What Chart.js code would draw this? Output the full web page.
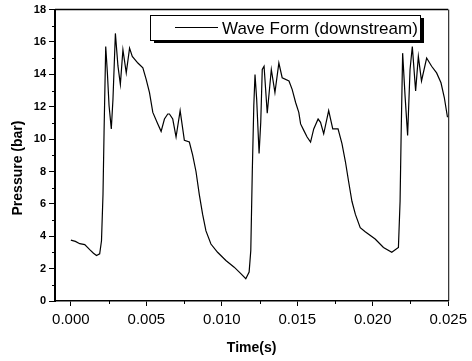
<!DOCTYPE html>
<html>
<head>
<meta charset="utf-8">
<script src="https://cdn.jsdelivr.net/npm/chart.js@4/dist/chart.umd.min.js"></script>
<style>
  html, body { margin: 0; padding: 0; background: #fff; }
  #wrap { width: 472px; height: 361px; }
</style>
</head>
<body>
<div id="wrap"><canvas id="chart" width="472" height="361"></canvas></div>
<script>
// values
const seriesLabel = 'Wave Form (downstream)';
const timeS = [
  0.00000, 0.00030, 0.00059, 0.00092, 0.00125, 0.00150, 0.00170, 0.00191, 0.00203, 0.00213,
  0.00220, 0.00231, 0.00242, 0.00253, 0.00268, 0.00279, 0.00295, 0.00312, 0.00328, 0.00345,
  0.00367, 0.00389, 0.00407, 0.00444, 0.00477, 0.00499, 0.00521, 0.00543, 0.00576, 0.00598,
  0.00620, 0.00642, 0.00653, 0.00675, 0.00697, 0.00724, 0.00752, 0.00785, 0.00807, 0.00829,
  0.00851, 0.00873, 0.00895, 0.00928, 0.00972, 0.01027, 0.01082, 0.01126, 0.01159, 0.01181,
  0.01192, 0.01202, 0.01212, 0.01220, 0.01231, 0.01247, 0.01258, 0.01268, 0.01280, 0.01301,
  0.01328, 0.01352, 0.01378, 0.01400, 0.01445, 0.01466, 0.01489, 0.01510, 0.01522, 0.01543,
  0.01565, 0.01588, 0.01609, 0.01638, 0.01654, 0.01675, 0.01708, 0.01735, 0.01770, 0.01796,
  0.01819, 0.01840, 0.01862, 0.01885, 0.01917, 0.01950, 0.02016, 0.02071, 0.02126, 0.02170,
  0.02181, 0.02188, 0.02198, 0.02214, 0.02231, 0.02247, 0.02262, 0.02284, 0.02302, 0.02323,
  0.02357, 0.02390, 0.02423, 0.02452, 0.02474, 0.02495
];
const pressureBar = [
  3.76, 3.68, 3.54, 3.48, 3.17, 2.95, 2.81, 2.91, 3.72, 6.59,
  10.43, 15.72, 14.09, 12.08, 10.63, 12.46, 16.53, 14.52, 13.38, 15.52,
  14.09, 15.62, 15.11, 14.70, 14.40, 13.69, 12.87, 11.65, 10.94, 10.48,
  11.24, 11.55, 11.55, 11.24, 10.13, 11.76, 9.93, 9.82, 9.01, 8.00,
  6.57, 5.35, 4.33, 3.52, 3.01, 2.50, 2.09, 1.69, 1.38, 1.79,
  3.11, 8.00, 12.06, 13.99, 12.46, 9.11, 11.04, 14.30, 14.50, 11.60,
  14.30, 12.87, 14.70, 13.79, 13.59, 13.07, 12.26, 11.65, 10.94, 10.54,
  10.13, 9.82, 10.63, 11.24, 11.04, 10.33, 11.76, 10.63, 10.63, 9.72,
  8.60, 7.38, 6.16, 5.35, 4.53, 4.28, 3.83, 3.31, 3.01, 3.31,
  6.16, 10.25, 15.31, 12.67, 10.23, 14.30, 15.72, 12.98, 15.11, 13.59,
  15.01, 14.50, 14.09, 13.48, 12.57, 11.35
];
const xTickValues = [0.000, 0.005, 0.010, 0.015, 0.020, 0.025];
const xMinorTicks = [0.0025, 0.0075, 0.0125, 0.0175, 0.0225];
const yTickValues = [0, 2, 4, 6, 8, 10, 12, 14, 16, 18];
const yMinorTicks = [1, 3, 5, 7, 9, 11, 13, 15, 17];

const points = timeS.map((t, i) => ({ x: t, y: pressureBar[i] }));

// minor ticks, frame, legend with shadow, rotated y title
const decorations = {
  id: 'decorations',
  afterDraw(chart) {
    const { ctx, chartArea: a, scales: { x, y } } = chart;
    ctx.save();
    ctx.strokeStyle = '#000';
    ctx.lineWidth = 1;
    ctx.beginPath();
    yMinorTicks.forEach(v => {
      const py = Math.round(y.getPixelForValue(v)) + 0.5;
      ctx.moveTo(a.left - 3, py);
      ctx.lineTo(a.left, py);
    });
    xMinorTicks.forEach(v => {
      const px = Math.round(x.getPixelForValue(v)) + 0.5;
      ctx.moveTo(px, a.bottom);
      ctx.lineTo(px, a.bottom + 3);
    });
    ctx.stroke();

    // top and right frame
    ctx.lineWidth = 1.5;
    ctx.beginPath();
    ctx.moveTo(a.left, a.top);
    ctx.lineTo(a.right, a.top);
    ctx.stroke();
    ctx.lineWidth = 1;
    ctx.beginPath();
    ctx.moveTo(a.right + 0.5, a.top);
    ctx.lineTo(a.right + 0.5, a.bottom);
    ctx.stroke();

    // legend box
    const bx = 150, by = 15, bw = 270, bh = 25;
    ctx.fillStyle = '#000';
    ctx.fillRect(bx + 4, by + 3, bw, bh);
    ctx.fillStyle = '#fff';
    ctx.fillRect(bx, by, bw, bh);
    ctx.strokeRect(bx + 0.5, by + 0.5, bw, bh);
    ctx.lineWidth = 1.2;
    ctx.beginPath();
    ctx.moveTo(175, 27.5);
    ctx.lineTo(218, 27.5);
    ctx.stroke();
    ctx.fillStyle = '#000';
    ctx.font = '17px "Liberation Sans", Arial, sans-serif';
    ctx.textBaseline = 'middle';
    ctx.textAlign = 'left';
    ctx.fillText(chart.data.datasets[0].label, 222, 29);

    // y axis title
    ctx.translate(18, 168);
    ctx.rotate(-Math.PI / 2);
    ctx.font = 'bold 14px "Liberation Sans", Arial, sans-serif';
    ctx.textAlign = 'center';
    ctx.fillText('Pressure (bar)', 0, 0);
    ctx.restore();
  }
};

new Chart(document.getElementById('chart'), {
  type: 'line',
  data: {
    datasets: [{
      label: seriesLabel,
      data: points,
      borderColor: '#000',
      borderWidth: 1.2,
      pointRadius: 0,
      tension: 0,
      fill: false
    }]
  },
  options: {
    responsive: false,
    animation: false,
    events: [],
    layout: { padding: { top: 6, right: 22, left: 0, bottom: 0 } },
    plugins: { legend: { display: false }, tooltip: { enabled: false } },
    scales: {
      x: {
        type: 'linear',
        min: -0.00105,
        max: 0.025,
        afterFit(s) { s.height = 60; },
        afterBuildTicks(s) { s.ticks = xTickValues.map(v => ({ value: v })); },
        border: { color: '#000', width: 1.5 },
        grid: { drawOnChartArea: false, color: '#000', tickLength: 5, tickWidth: 1 },
        ticks: {
          color: '#000',
          padding: 5,
          maxRotation: 0,
          font: { family: '"Liberation Sans", Arial, sans-serif', size: 15 },
          callback: v => v.toFixed(3)
        },
        title: {
          display: true,
          text: 'Time(s)',
          color: '#000',
          padding: { top: 0, bottom: 4 },
          font: { family: '"Liberation Sans", Arial, sans-serif', size: 14, weight: 'bold' }
        }
      },
      y: {
        min: 0,
        max: 18,
        afterFit(s) { s.width = 55; },
        afterBuildTicks(s) { s.ticks = yTickValues.map(v => ({ value: v })); },
        border: { color: '#000', width: 2 },
        grid: { drawOnChartArea: false, color: '#000', tickLength: 6, tickWidth: 1 },
        ticks: {
          color: '#000',
          padding: 3,
          font: { family: '"Liberation Sans", Arial, sans-serif', size: 11, weight: 'bold' }
        }
      }
    }
  },
  plugins: [decorations]
});
</script>
</body>
</html>
